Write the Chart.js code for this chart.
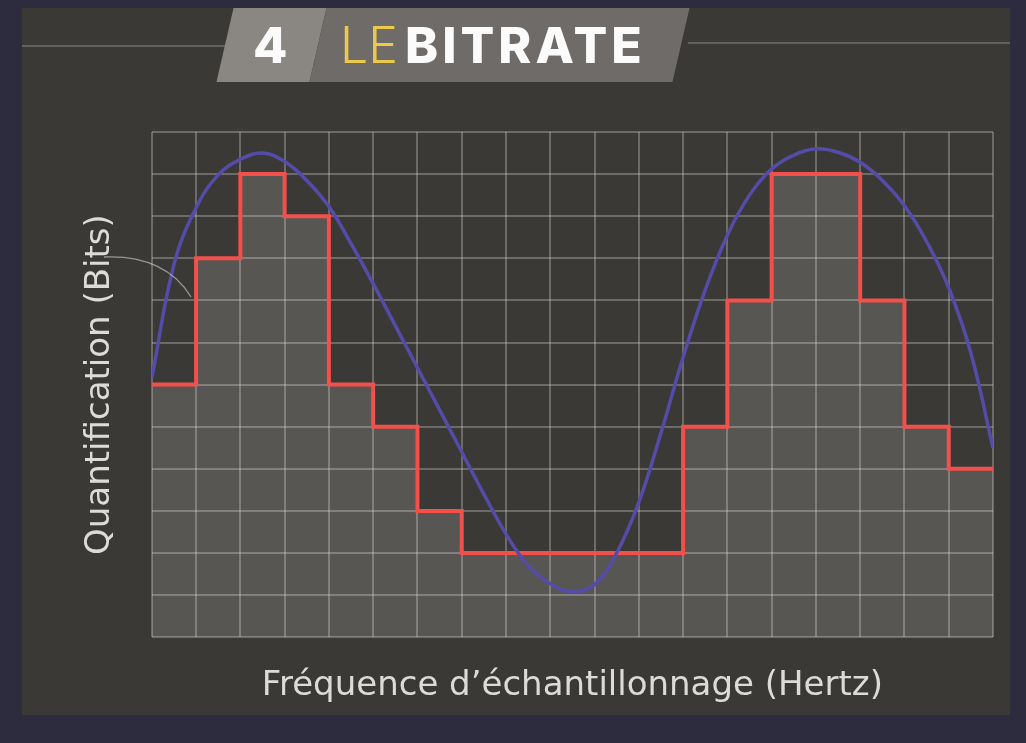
<!DOCTYPE html>
<html>
<head>
<meta charset="utf-8">
<script src="https://cdn.jsdelivr.net/npm/chart.js@4.4.1/dist/chart.umd.min.js"></script>
<style>
  html, body { margin: 0; padding: 0; width: 1026px; height: 743px; overflow: hidden; background: #2d2b3e; }
  #paper { position: absolute; left: 22px; top: 8px; width: 988px; height: 707px; background: #3b3936; }
  .rule { position: absolute; height: 2px; background: rgba(200, 200, 195, 0.28); }
  .tab { position: absolute; top: 8px; height: 74px; transform: skewX(-13deg); }
  #tabA { left: 225px; width: 93px; background: #8a8682; }
  #tabB { left: 318px; width: 363px; background: #6f6b68; }
  .ttl { position: absolute; top: 20px; font-family: Inter, sans-serif; font-size: 50px; line-height: 50px; color: #fbfbfb; font-weight: 800; }
  #pointer { position: absolute; left: 0; top: 0; }
  canvas { position: absolute; left: 0; top: 0; }
</style>
</head>
<body>
<div id="paper"></div>
<div class="rule" style="left:22px; top:45px; width:205px;"></div>
<div class="rule" style="left:688px; top:42px; width:322px;"></div>
<div class="tab" id="tabA"></div>
<div class="tab" id="tabB"></div>
<span class="ttl" style="left:253px;">4</span>
<span class="ttl" style="left:340px; color:#ebc94b; font-weight:300;">LE</span>
<span class="ttl" style="left:405px; letter-spacing:4px;">BITRATE</span>
<canvas id="chart" width="1026" height="743"></canvas>
<svg id="pointer" width="1026" height="743">
  <path d="M104,257 C145,255 175,270 191,297" stroke="rgba(215,215,210,0.6)" stroke-width="1.3" fill="none"/>
</svg>
<script>
// grid: 19 sample columns, 12 quantisation levels
const columnCount = 19;
const levelCount = 12;

// quantised level held over each sample column (red steps)
const stepLevels = [6, 9, 11, 10, 6, 5, 3, 2, 2, 2, 2, 2, 5, 8, 11, 11, 8, 5, 4];

// analogue signal (blue curve), every half column
const curveX = [0, 0.5, 1, 1.5, 2, 2.5, 3, 3.5, 4, 4.5, 5, 5.5, 6, 6.5, 7, 7.5, 8, 8.5, 9, 9.5,
  10, 10.5, 11, 11.5, 12, 12.5, 13, 13.5, 14, 14.5, 15, 15.5, 16, 16.5, 17, 17.5, 18, 18.5, 19];
const curveY = [6.15, 8.85, 10.2, 10.98, 11.35, 11.5, 11.3, 10.85, 10.23, 9.35, 8.4, 7.4, 6.4, 5.4, 4.4, 3.4, 2.45, 1.7, 1.27, 1.08,
  1.25, 2.0, 3.2, 4.85, 6.65, 8.25, 9.55, 10.5, 11.12, 11.45, 11.6, 11.52, 11.28, 10.85, 10.25, 9.4, 8.3, 6.75, 4.5];

const xTitle = "Fréquence d’échantillonnage (Hertz)";
const yTitle = "Quantification (Bits)";

// build point lists for the library
const stepPoints = stepLevels.map((v, i) => ({ x: i, y: v }));
stepPoints.push({ x: columnCount, y: stepLevels[stepLevels.length - 1] });
const curvePoints = curveX.map((x, i) => ({ x: x, y: curveY[i] }));

const gridColor = "rgba(210, 208, 203, 0.33)";
const labelFont = { family: "'DejaVu Sans', sans-serif", size: 34, weight: "normal" };

const ctx = document.getElementById("chart").getContext("2d");
const myChart = new Chart(ctx, {
  type: "line",
  data: {
    datasets: [
      {
        label: "Signal",
        data: curvePoints,
        borderColor: "#544ca8",
        borderWidth: 3.5,
        pointRadius: 0,
        tension: 0.4,
        fill: false,
      },
      {
        label: "Quantification",
        data: stepPoints,
        stepped: "before",
        borderColor: "#f34f4b",
        borderWidth: 4,
        pointRadius: 0,
        fill: "origin",
        backgroundColor: "rgba(255, 255, 255, 0.15)",
      },
    ],
  },
  options: {
    responsive: false,
    animation: false,
    layout: { padding: { left: 80, top: 132, right: 33, bottom: 36 } },
    plugins: {
      legend: { display: false },
      tooltip: { enabled: false },
    },
    scales: {
      x: {
        type: "linear",
        min: 0,
        max: columnCount,
        ticks: { display: false, stepSize: 1, autoSkip: false, maxTicksLimit: 40 },
        grid: { color: gridColor, lineWidth: 2, drawTicks: false },
        border: { display: false },
        title: { display: true, text: xTitle, color: "#dddbd7", font: labelFont, padding: { top: 29, bottom: 0 } },
      },
      y: {
        type: "linear",
        min: 0,
        max: levelCount,
        ticks: { display: false, stepSize: 1, autoSkip: false, maxTicksLimit: 40 },
        grid: { color: gridColor, lineWidth: 2, drawTicks: false },
        border: { display: false },
        title: { display: true, text: yTitle, color: "#dddbd7", font: labelFont, padding: { top: 0, bottom: 31 } },
      },
    },
  },
});
</script>
</body>
</html>
